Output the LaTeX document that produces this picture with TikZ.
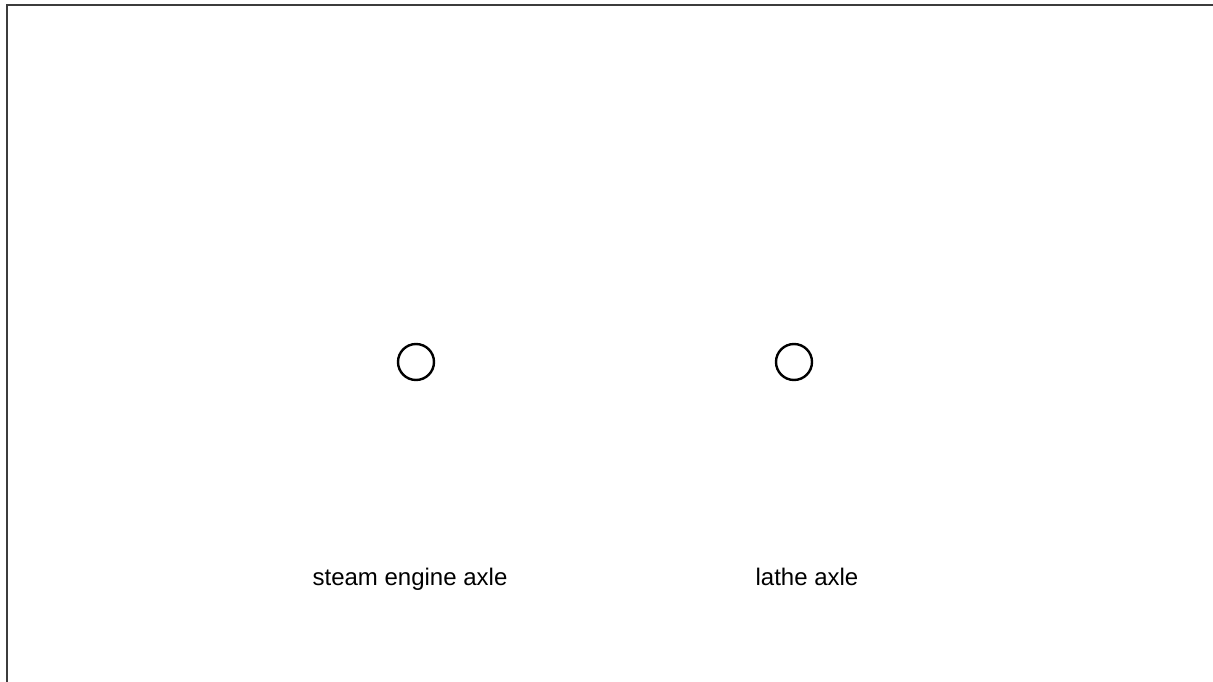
\documentclass[tikz,border=0pt]{standalone}
\usepackage{fontspec}
\setmainfont{Liberation Sans}
\usepackage{tikz}
\usetikzlibrary{positioning}
\definecolor{framegray}{RGB}{60,60,60}

\begin{document}
\begin{tikzpicture}[x=1pt,y=-1pt,every node/.style={font=\fontsize{24}{28}\selectfont},
  axle/.style={circle,draw,line width=2.4pt,minimum size=36pt,inner sep=0pt},
  axlelabel/.style={anchor=base}]
\useasboundingbox (0,0) rectangle (1213,682);
\draw[line width=2pt,framegray] (7,700) |- (1230,5);
\node[axle] (engine) at (416,362) {};
\node[axle] (lathe) at (794,362) {};
\node[axlelabel] (enginelbl) at (410,585) {steam engine axle};
\node[axlelabel] (lathelbl) at (807,585) {lathe axle};
\end{tikzpicture}
\end{document}
